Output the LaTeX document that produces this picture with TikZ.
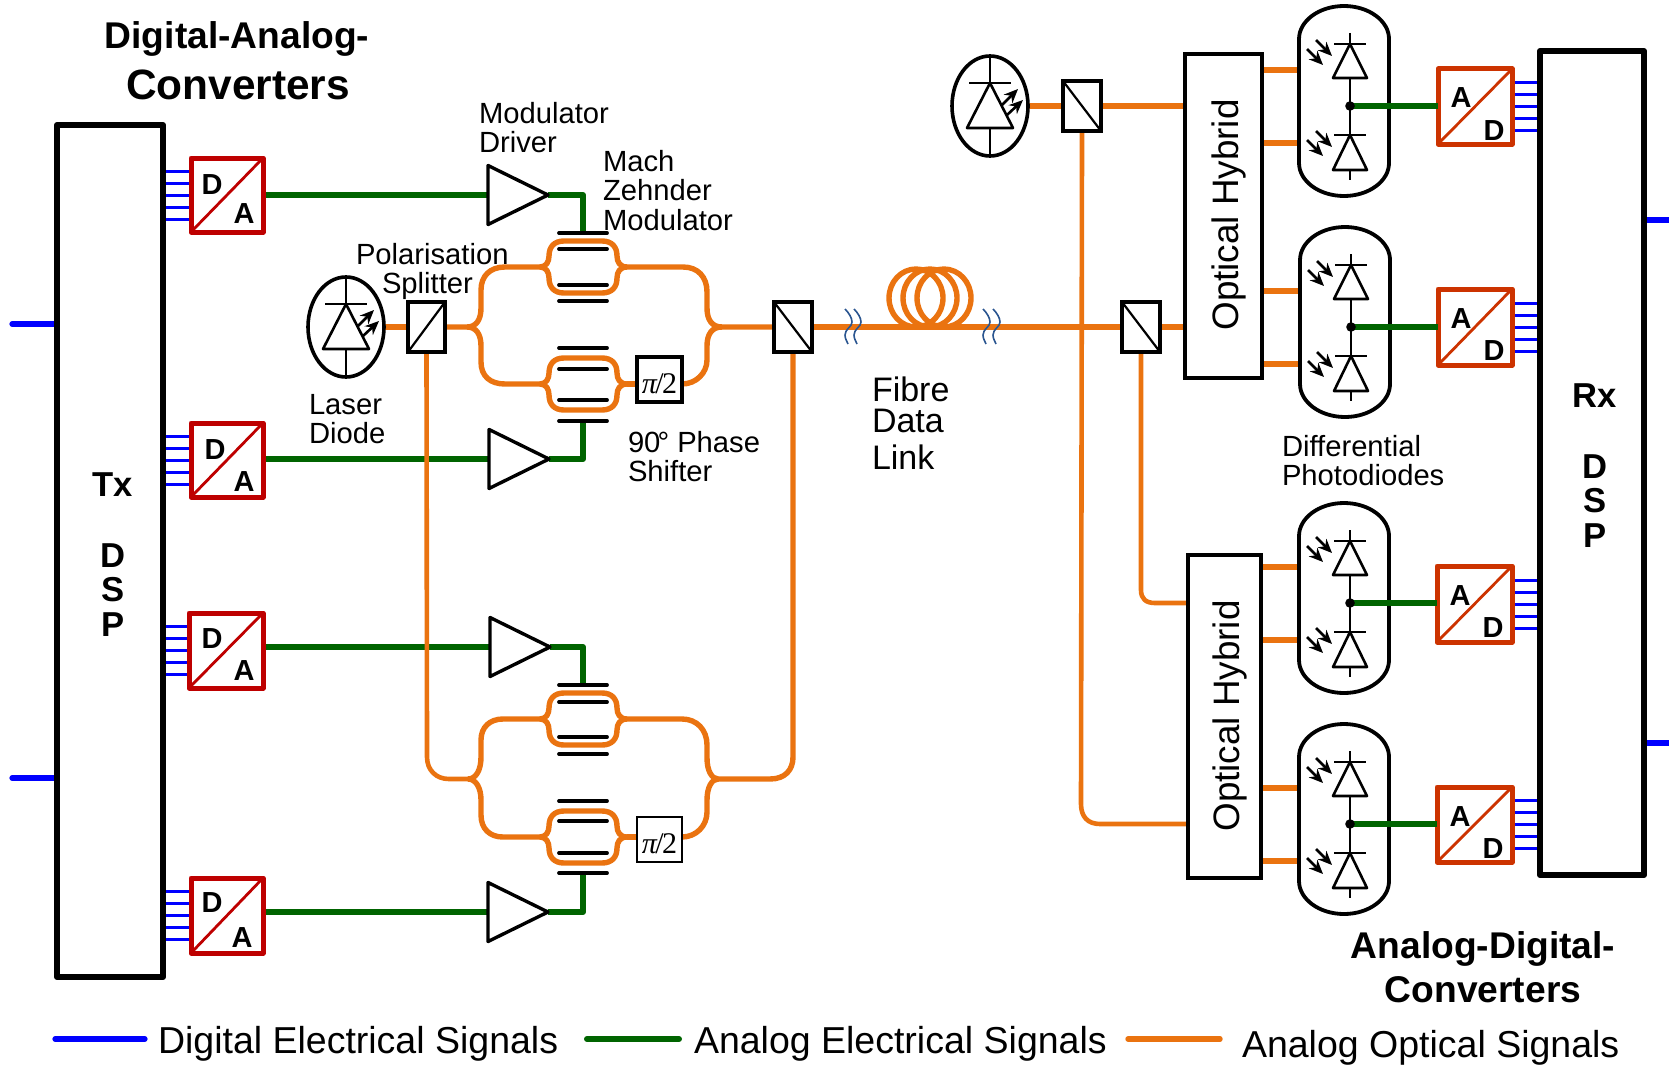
\documentclass[tikz,border=0pt]{standalone}
\usepackage{fontspec}
\setmainfont{Liberation Sans}
\newfontfamily\pifont{Liberation Serif}
\usetikzlibrary{shapes.geometric,arrows.meta}
\pgfdeclarelayer{bg}
\pgfsetlayers{bg,main}
\definecolor{optc}{HTML}{EA7310}
\definecolor{anac}{HTML}{006400}
\definecolor{digc}{HTML}{0000FF}
\definecolor{dacol}{HTML}{BE0000}
\definecolor{adcol}{HTML}{CC3300}
\definecolor{wavec}{HTML}{2A5590}
\tikzset{
  opt/.style={draw=optc,line width=2.7pt,line join=round},
  optthin/.style={draw=optc,line width=2.3pt,line join=round},
  ana/.style={draw=anac,line width=3pt,line join=round},
  dig/.style={draw=digc,line width=1.5pt},
  digw/.style={draw=digc,line width=2.6pt,line cap=round},
  bar/.style={draw=black,line width=1.9pt,line cap=round},
  dsp/.style={draw,rectangle,inner sep=0pt,outer sep=0pt,line width=3pt,line join=round},
  conv/.style={draw,rectangle,inner sep=0pt,outer sep=0pt,line width=2.5pt,line join=round},
  hyb/.style={draw,rectangle,inner sep=0pt,outer sep=0pt,line width=2.1pt},
  pbsbox/.style={draw,rectangle,inner sep=0pt,outer sep=0pt,line width=1.8pt},
  pbsdiag/.style={draw=black,line width=1.1pt},
  phasebox/.style={draw,rectangle,inner sep=0pt,outer sep=0pt},
  phasetext/.style={inner sep=0pt,outer sep=0pt,font=\pifont\fontsize{15}{15}\selectfont},
  ampbox/.style={draw,isosceles triangle,isosceles triangle stretches,inner sep=0pt,outer sep=0pt,
    minimum width=29.5pt,minimum height=30pt,line width=1.7pt,anchor=apex,line join=round},
  ldbox/.style={draw,ellipse,inner sep=0pt,outer sep=0pt,line width=1.8pt},
  pen/.style={draw=black,line width=1.3pt,line join=round},
  capsule/.style={draw=black,line width=1.9pt},
  ray/.style={draw=black,line width=1.3pt,-{Stealth[length=7pt,width=6pt]}},
  lab/.style={inner sep=0pt,outer sep=0pt,align=left,anchor=north west,font=\fontsize{14.6}{14.75}\selectfont},
  head/.style={inner sep=0pt,outer sep=0pt,align=center,font=\bfseries\fontsize{18.6}{22}\selectfont},
  dsplab/.style={inner sep=0pt,outer sep=0pt,align=center,anchor=north,font=\bfseries\fontsize{17.3}{17.25}\selectfont},
  letter/.style={inner sep=0pt,outer sep=0pt,font=\bfseries\fontsize{14.5}{15}\selectfont},
  hyblab/.style={inner sep=0pt,outer sep=0pt,rotate=90,font=\fontsize{18.4}{20}\selectfont},
  leg/.style={inner sep=0pt,outer sep=0pt,anchor=west,font=\fontsize{18.75}{20}\selectfont},
}
% rectangle node from its corners
\newcommand{\bx}[7][]{%
  \pgfmathsetmacro\bcx{(#4+#6)/2}\pgfmathsetmacro\bcy{(#5+#7)/2}%
  \pgfmathsetmacro\bw{(#6-#4)*0.5}\pgfmathsetmacro\bh{(#7-#5)*0.5}%
  \node[#2,minimum width=\bw pt,minimum height=\bh pt,#1] (#3) at (\bcx,\bcy) {};}
% converter block: colour, name, corners, first letter+pos, second letter+pos
\newcommand{\convbox}[7]{%
  \bx[draw=#1]{conv}{#2}#3
  \draw[draw=#1,line width=1.4pt] (#2.south west) -- (#2.north east);
  \node[letter] (#2-p) at #5 {#4};
  \node[letter] (#2-q) at #7 {#6};}
% Mach-Zehnder section: name, centre y, inner bars (up, down), outer bars (up, down)
\newcommand{\mzm}[6]{%
  \begin{scope}[shift={(0,#2)}]
  \coordinate (#1-in) at (540,0);
  \coordinate (#1-out) at (627,0);
  \coordinate (#1-top) at (583,#5);
  \coordinate (#1-bot) at (583,#6);
  \begin{pgfonlayer}{bg}
  \draw[opt] (#1-in) .. controls (546,0) and (549,-5) .. (549,-11) .. controls (549,-20) and (554,-26) .. (564,-26)
     -- (602,-26) .. controls (612,-26) and (617,-20) .. (617,-11) .. controls (617,-5) and (620,0) .. (#1-out);
  \draw[opt] (#1-in) .. controls (546,0) and (549,5) .. (549,11) .. controls (549,20) and (554,26) .. (564,26)
     -- (602,26) .. controls (612,26) and (617,20) .. (617,11) .. controls (617,5) and (620,0) .. (#1-out);
  \end{pgfonlayer}
  \draw[bar] (559,#3) -- (607,#3);
  \draw[bar] (559,#4) -- (607,#4);
  \draw[bar] (559,#5) -- (607,#5);
  \draw[bar] (559,#6) -- (607,#6);
  \end{scope}}
% laser diode
\newcommand{\laser}[3]{%
  \node[ldbox,minimum width=38pt,minimum height=50pt] (#1) at (#2,#3) {};
  \begin{scope}[shift={(#2,#3)}]
  \draw[pen] (0,-50) -- (0,-23);
  \draw[pen] (-21,-23) -- (21,-23);
  \draw[pen] (0,-23) -- (23,22) -- (-23,22) -- cycle;
  \draw[pen] (0,22) -- (0,50);
  \draw[ray] (12,-1) -- (28,-17);
  \draw[ray] (17,9) -- (33,-6);
  \end{scope}}
% differential photodiodes: name, x, y of the middle point, converter
\newcommand{\pdpair}[4]{%
  \begin{scope}[shift={(#2,#3)}]
  \draw[capsule] (-51,-67) .. controls (-51,-85) and (-31,-100) .. (-6,-100) .. controls (19,-100) and (39,-85) .. (39,-67)
     -- (39,57) .. controls (39,75) and (19,90) .. (-6,90) .. controls (-31,90) and (-51,75) .. (-51,57) -- cycle;
  \coordinate (#1-a) at (-51,-36);
  \coordinate (#1-b) at (-51,37);
  \draw[pen] (0,-73) -- (0,74);
  \draw[pen,fill=white] (0,-62) -- (17,-28) -- (-17,-28) -- cycle;
  \draw[pen] (-16,-62) -- (16,-62);
  \draw[pen,fill=white] (0,29) -- (17,64) -- (-17,64) -- cycle;
  \draw[pen] (-16,29) -- (16,29);
  \draw[ray] (-34,-66) -- (-18,-50);
  \draw[ray] (-43,-57) -- (-27,-41);
  \draw[ray] (-34,25) -- (-18,41);
  \draw[ray] (-43,34) -- (-27,50);
  \coordinate (#1-m) at (0,0);
  \draw[ana] (#1-m) -- (#1-m -| #4.west);
  \node[circle,fill=black,inner sep=0pt,outer sep=0pt,minimum size=4.8pt] (#1-dot) at (0,0) {};
  \end{scope}}
% fibre break
\newcommand{\waves}[1]{%
  \begin{scope}[shift={(#1,0)}]
  \draw[draw=wavec,line width=.8pt] (0,309) .. controls (4,313) and (7,318) .. (7,322) .. controls (7,327) and (0,329) .. (0,335) .. controls (0,339) and (2,341) .. (3,344);
  \end{scope}}
\begin{document}
\begin{tikzpicture}[x=0.5pt,y=-0.5pt]
\useasboundingbox (0,0) rectangle (1669,1065);

% processors
\bx{dsp}{tx}{57}{125}{163}{977}
\bx{dsp}{rx}{1540}{51}{1644}{875}
\node[dsplab] (txl) at (113,473) {Tx\\[18pt]D\\S\\P};
\node[dsplab] (rxl) at (1595,384) {Rx\\[18pt]D\\S\\P};

% D/A converters
\convbox{dacol}{da1}{{191}{158}{263}{232}}{D}{(212,185)}{A}{(244,214)}
\convbox{dacol}{da2}{{191}{423}{263}{497}}{D}{(215,450)}{A}{(244,482)}
\convbox{dacol}{da3}{{189}{613}{263}{688}}{D}{(212,639)}{A}{(244,671)}
\convbox{dacol}{da4}{{191}{878}{263}{953}}{D}{(212,903)}{A}{(242,938)}

% A/D converters
\convbox{adcol}{ad1}{{1438}{69}{1512}{144}}{A}{(1461,98)}{D}{(1494,131)}
\convbox{adcol}{ad2}{{1438}{289}{1512}{365}}{A}{(1461,319)}{D}{(1494,351)}
\convbox{adcol}{ad3}{{1437}{566}{1512}{642}}{A}{(1460,596)}{D}{(1493,628)}
\convbox{adcol}{ad4}{{1437}{787}{1512}{862}}{A}{(1460,817)}{D}{(1493,849)}

% amplifiers
\node[ampbox] (a1) at (548,195) {};
\node[ampbox] (a2) at (549,459) {};
\node[ampbox] (a3) at (550,647) {};
\node[ampbox] (a4) at (548,912) {};

% Mach-Zehnder sections
\mzm{m1}{267}{-18}{18}{-34}{34}
\mzm{m2}{384}{-15}{16}{-36}{37}
\mzm{m3}{719}{-17}{18}{-34}{35}
\mzm{m4}{837}{-16}{16}{-36}{36}

% phase shifters
\bx[line width=1.7pt]{phasebox}{ps1}{637}{357}{682}{402}
\node[phasetext] (ps1t) at (659.5,384) {{\itshape π}\kern-.8pt/\kern-.8pt2};
\bx[line width=1.2pt]{phasebox}{ps2}{637}{817}{682}{862}
\node[phasetext] (ps2t) at (659.5,844) {{\itshape π}\kern-.8pt/\kern-.8pt2};

% lasers
\laser{ld1}{346}{327}
\laser{ld2}{990}{106}

% polarisation splitters
\bx{pbsbox}{pbs1}{408}{302}{445}{352}
\draw[pbsdiag] (pbs1.south west) -- (pbs1.north east);
\bx{pbsbox}{pbs3}{774}{302}{812}{352}
\draw[pbsdiag] (pbs3.north west) -- (pbs3.south east);
\bx{pbsbox}{pbs2}{1063}{81}{1101}{131}
\draw[pbsdiag] (pbs2.north west) -- (pbs2.south east);
\bx{pbsbox}{pbs4}{1122}{302}{1160}{352}
\draw[pbsdiag] (pbs4.north west) -- (pbs4.south east);

% hybrids
\bx{hyb}{hy1}{1185}{54}{1262}{378}
\bx{hyb}{hy2}{1188}{555}{1261}{878}
\node[hyblab] (hy1t) at (1229,215) {Optical Hybrid};
\node[hyblab] (hy2t) at (1230,716) {Optical Hybrid};

% photodiodes
\pdpair{pd1}{1350}{106}{ad1}
\pdpair{pd2}{1351}{327}{ad2}
\pdpair{pd3}{1350}{603}{ad3}
\pdpair{pd4}{1350}{824}{ad4}

\coordinate (sp1) at (467,327);
\coordinate (cb1) at (722,327);
\coordinate (sp2) at (468,779);
\coordinate (cb2) at (718,779);

\begin{pgfonlayer}{bg}
  % digital lines
  \foreach \con in {da1,da2,da3,da4}
    \foreach \dy in {-24,-12,0,12,24}
      \draw[dig] ([yshift=\dy*0.5pt]\con.west) -- ([yshift=\dy*0.5pt]tx.east |- \con.west);
  \foreach \con in {ad1,ad2,ad3,ad4}
    \foreach \dy in {-24,-12,0,12,24}
      \draw[dig] ([yshift=\dy*0.5pt]\con.east) -- ([yshift=\dy*0.5pt]rx.west |- \con.east);
  \coordinate (ti1) at (12,324);
  \coordinate (ti2) at (12,778);
  \coordinate (ro1) at (1669,220);
  \coordinate (ro2) at (1669,743);
  \draw[digw] (ti1) -- (ti1 -| tx.west);
  \draw[digw] (ti2) -- (ti2 -| tx.west);
  \draw[digw] (ro1) -- (ro1 -| rx.east);
  \draw[digw] (ro2) -- (ro2 -| rx.east);

  % analog electrical lines
  \draw[ana] (a1.apex -| da1.east) -- (a1.apex -| a1.left corner);
  \draw[ana] (a2.apex -| da2.east) -- (a2.apex -| a2.left corner);
  \draw[ana] (a3.apex -| da3.east) -- (a3.apex -| a3.left corner);
  \draw[ana] (a4.apex -| da4.east) -- (a4.apex -| a4.left corner);
  \draw[ana] (a1.apex) -| (m1-top);
  \draw[ana] (a2.apex) -| (m2-bot);
  \draw[ana] (a3.apex) -| (m3-top);
  \draw[ana] (a4.apex) -| (m4-bot);

  % optical, first polarisation
  \draw[opt] (ld1.east) -- (pbs1.west);
  \draw[opt] (pbs1.east) -- (sp1) .. controls (476,327) and (481,320) .. (481,308) -- (481,290)
     .. controls (481,276) and (490,267) .. (505,267) -- (m1-in);
  \draw[opt] (sp1) .. controls (476,327) and (481,334) .. (481,346) -- (481,362)
     .. controls (481,376) and (490,384) .. (505,384) -- (m2-in);
  \draw[opt] (m1-out) -- (683,267) .. controls (698,267) and (707,277) .. (707,292) -- (707,308)
     .. controls (707,320) and (712,327) .. (cb1) -- (pbs3.west);
  \draw[opt] (m2-out) -- (ps1.west |- m2-out);
  \draw[opt] (ps1.east |- m2-out) .. controls (696,384) and (707,373) .. (707,360) -- (707,346)
     .. controls (707,334) and (712,327) .. (cb1);

  % optical, second polarisation
  \draw[optthin] (pbs1.south) -- (427,757) .. controls (427,770) and (436,779) .. (449,779) -- (sp2);
  \draw[opt] (sp2) .. controls (476,779) and (481,770) .. (481,757) -- (481,740)
     .. controls (481,727) and (490,719) .. (503,719) -- (m3-in);
  \draw[opt] (sp2) .. controls (476,779) and (481,788) .. (481,800) -- (481,815)
     .. controls (481,829) and (490,837) .. (503,837) -- (m4-in);
  \draw[opt] (m3-out) -- (682,719) .. controls (697,719) and (707,730) .. (707,745) -- (707,758)
     .. controls (707,771) and (712,779) .. (cb2) -- (770,779)
     .. controls (785,779) and (793,770) .. (793,757) -- (pbs3.south);
  \draw[opt] (m4-out) -- (ps2.west |- m4-out);
  \draw[opt] (ps2.east |- m4-out) .. controls (696,837) and (707,826) .. (707,812) -- (707,800)
     .. controls (707,787) and (712,779) .. (cb2);

  % fibre
  \draw[opt] (pbs3.east) -- (pbs4.west);
  \draw[opt] (916,298) ellipse [x radius=13.5pt,y radius=14.5pt];
  \draw[opt] (930,298) ellipse [x radius=13.5pt,y radius=14.5pt];
  \draw[opt] (944,298) ellipse [x radius=13.5pt,y radius=14.5pt];

  % receiver
  \draw[opt] (ld2.east) -- (pbs2.west);
  \draw[opt] (pbs2.east) -- (pbs2.east -| hy1.west);
  \draw[opt] (pbs4.east) -- (pbs4.east -| hy1.west);
  \draw[optthin] (pbs2.south) -- (1081,804) .. controls (1081,817) and (1088,824) .. (1100,824) -- (hy2.west |- pd4-m);
  \draw[optthin] (pbs4.south) -- (1141,590) .. controls (1141,599) and (1146,603) .. (1155,603) -- (hy2.west |- pd3-m);
  \draw[opt] (pd1-a -| hy1.east) -- (pd1-a);
  \draw[opt] (pd1-b -| hy1.east) -- (pd1-b);
  \draw[opt] (pd2-a -| hy1.east) -- (pd2-a);
  \draw[opt] (pd2-b -| hy1.east) -- (pd2-b);
  \draw[opt] (pd3-a -| hy2.east) -- (pd3-a);
  \draw[opt] (pd3-b -| hy2.east) -- (pd3-b);
  \draw[opt] (pd4-a -| hy2.east) -- (pd4-a);
  \draw[opt] (pd4-b -| hy2.east) -- (pd4-b);
\end{pgfonlayer}

\waves{845}\waves{854}\waves{983}\waves{993}

% labels
\node[head] (h1) at (237,39) {Digital-Analog-};
\node[head,font=\bfseries\fontsize{21.2}{22}\selectfont] (h2) at (238,85) {Converters};
\node[head] (h3) at (1483,967) {Analog-Digital-\\Converters};
\node[lab] (t1) at (479,102) {Modulator\\Driver};
\node[lab] (t2) at (603,150) {Mach\\Zehnder\\Modulator};
\node[lab] (t3) at (356,243) {Polarisation\\\hspace*{13pt}Splitter};
\node[lab] (t4) at (309,394) {Laser\\Diode};
\node[lab] (t5) at (628,431) {90\kern-1.5pt° Phase\\Shifter};
\node[lab,font=\fontsize{17}{17}\selectfont] (t6) at (872,377) {Fibre\\[-1.5pt]Data\\[1.5pt]Link};
\node[lab] (t7) at (1282,435) {Differential\\Photodiodes};

% legend
\coordinate (lb1) at (55,1039);
\coordinate (lb2) at (145,1039);
\coordinate (lg1) at (587,1039);
\coordinate (lg2) at (679,1039);
\coordinate (lo1) at (1128,1039);
\coordinate (lo2) at (1220,1039);
\draw[digw] (lb1) -- (lb2);
\draw[ana,line cap=round] (lg1) -- (lg2);
\draw[opt,line cap=round] (lo1) -- (lo2);
\node[leg] (l1) at (158,1044) {Digital Electrical Signals};
\node[leg] (l2) at (694,1044) {Analog Electrical Signals};
\node[leg] (l3) at (1242,1048) {Analog Optical Signals};
\end{tikzpicture}
\end{document}
